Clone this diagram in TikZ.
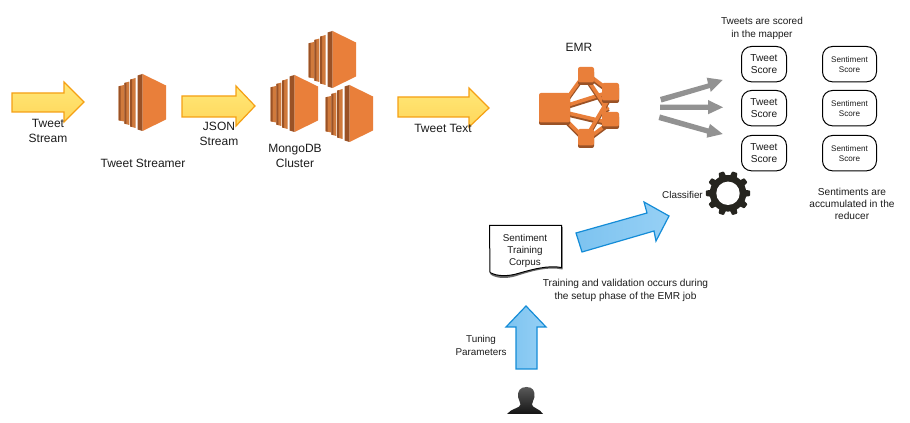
\documentclass[tikz,border=0pt]{standalone}
\usepackage{fontspec}
\setmainfont{Liberation Sans}
\definecolor{awsorange}{HTML}{E97F3A}
\definecolor{awsdark}{HTML}{9A5226}
\definecolor{awsstrip}{HTML}{D07A3C}
\definecolor{gearcol}{HTML}{26251F}
\definecolor{arrowgrey}{HTML}{929292}
\definecolor{txt}{HTML}{1C1C1C}
\tikzset{
  x=0.75pt,y=-0.75pt,
  lbl/.style={font=\fontsize{9}{11.2}\selectfont,text=txt,align=center,inner sep=0pt},
  lblsm/.style={font=\fontsize{7.6}{8.8}\selectfont,text=txt,align=center,inner sep=0pt},
  lbltiny/.style={font=\fontsize{6.1}{7.6}\selectfont,text=txt,align=center,inner sep=0pt},
  lblnote/.style={font=\fontsize{7.5}{9.2}\selectfont,text=txt,align=center,inner sep=0pt},
  yarrow/.style={draw={rgb,255:red,245;green,160;blue,20},line width=0.9pt,line join=miter,top color={rgb,255:red,255;green,232;blue,120},bottom color={rgb,255:red,255;green,214;blue,90}},
  barrow/.style={draw={rgb,255:red,20;green,140;blue,215},line width=0.9pt,line join=miter,left color={rgb,255:red,125;green,195;blue,240},right color={rgb,255:red,150;green,208;blue,245}},
  grey arrow/.style={fill=arrowgrey,draw=none},
  scorebox/.style={draw=black,line width=0.75pt,rounded corners=7.5pt,fill=white,inner sep=0pt},
  ec2/.pic={
    \fill[awsstrip] (0.7,12.3) -- (6,11) -- (6,47.5) -- (0.7,46.3) -- cycle;
    \fill[awsdark] (0.7,12.3) -- (2.7,11.8) -- (2.7,46.8) -- (0.7,46.3) -- cycle;
    \fill[awsstrip] (6.3,9) -- (11.3,7.6) -- (11.3,51) -- (6.3,49.6) -- cycle;
    \fill[awsdark] (6.3,9) -- (8.3,8.5) -- (8.3,50.1) -- (6.3,49.6) -- cycle;
    \fill[awsstrip] (12,5.7) -- (17.5,4) -- (17.5,54) -- (12,52.4) -- cycle;
    \fill[awsdark] (12,5.7) -- (14,5.2) -- (14,53) -- (12,52.4) -- cycle;
    \fill[awsdark] (19.5,1.5) -- (24.5,0) -- (24.5,57) -- (19.5,55.5) -- cycle;
    \fill[awsorange] (24.5,0) -- (48,11.5) -- (48,45.5) -- (24.5,57) -- cycle;
  },
}
\begin{document}
\begin{tikzpicture}
\useasboundingbox (0,0) rectangle (910,423);
\fill[white] (0,0) rectangle (910,423);
% yellow arrows
\path[yarrow] (12,93) -- (64,93) -- (64,82) -- (84,102) -- (64,122) -- (64,112) -- (12,112) -- cycle;
\path[yarrow] (182,96) -- (236,96) -- (236,86) -- (255,106) -- (236,126) -- (236,117) -- (182,117) -- cycle;
\path[yarrow] (398,97) -- (469,97) -- (469,88) -- (489,108) -- (469,127) -- (469,117) -- (398,117) -- cycle;
% labels
\node[lbl] (tweetstream) at (48,131.3) {Tweet\\Stream};
\node[lbl] (jsonstream) at (219,134) {JSON\\Stream};
\node[lbl] (tweettext) at (443,128.5) {Tweet Text};
\node[lbl] (streamer) at (143,163) {Tweet Streamer};
\node[lbl] (mongo) at (295,156) {MongoDB\\Cluster};
\node[lbl] (emrlabel) at (579,47) {EMR};
% EC2 icons
\pic at (118,74) {ec2};
\pic at (308,31) {ec2};
\pic at (270,75) {ec2};
\pic at (325,85) {ec2};
% EMR
\foreach \a/\b/\c/\d in {
  568/97/581/79, 568/122/581/135, 590/76/606/88, 590/137/606/125,
  568/105/606/93, 568/113/606/122, 588/80/608/110, 588/134/608/100, 604/100/604/115}{
  \draw[awsdark,line width=2.9pt] (\a,\b+1.8) -- (\c,\d+1.8);
  \draw[awsorange,line width=2.7pt] (\a,\b) -- (\c,\d);
}
\foreach \xa/\ya/\xb/\yb in {539/93/570/125, 578/67/594/85, 602/83/619/103, 602/112/619/129, 578/129/594/148}{
  \fill[awsdark,rounded corners=1.5pt] (\xa,\ya+3) rectangle (\xb,\yb);
  \fill[awsorange,rounded corners=1.5pt] (\xa,\ya) rectangle (\xb,\yb-2.5);
}
% grey arrows
\fill[grey arrow] (660,97) -- (708,83.5) -- (706.7,77.7) -- (722.7,80) -- (710.7,92) -- (710,88) -- (661.5,102.5) -- cycle;
\fill[grey arrow] (660,104.7) -- (708,104.7) -- (708,100) -- (723,107.3) -- (708,114.3) -- (708,109.8) -- (660,109.8) -- cycle;
\fill[grey arrow] (660,114.5) -- (708.5,128.5) -- (710,124) -- (722.7,134) -- (706.7,137.7) -- (707,133.5) -- (658.5,120) -- cycle;
% score boxes
\foreach \n/\yy in {1/46,2/90,3/135}{
  \node[scorebox,minimum width=33.75pt,minimum height=26.5pt,anchor=north west,lblsm,draw=black] (ts\n) at (741,\yy) {Tweet\\Score};
  \node[scorebox,minimum width=40.5pt,minimum height=26.5pt,anchor=north west,lbltiny,draw=black] (ss\n) at (822,\yy) {Sentiment\\Score};
}
\node[lblnote] (mapper) at (762,28.5) {Tweets are scored\\in the mapper};
\node[lblnote,font=\fontsize{7.6}{9.2}\selectfont] (reducer) at (852,204) {Sentiments are\\accumulated in the\\reducer};
% gear
\foreach \k in {0,...,9}{
  \pgfmathsetmacro{\aa}{\k*36-12}
  \pgfmathsetmacro{\ab}{\k*36-7}
  \pgfmathsetmacro{\ac}{\k*36+7}
  \pgfmathsetmacro{\ad}{\k*36+12}
  \fill[gearcol,rounded corners=0.6pt] ({728+17*cos(\aa)},{193.3+17*sin(\aa)}) -- ({728+22.3*cos(\ab)},{193.3+22.3*sin(\ab)}) -- ({728+22.3*cos(\ac)},{193.3+22.3*sin(\ac)}) -- ({728+17*cos(\ad)},{193.3+17*sin(\ad)}) -- cycle;
}
\fill[gearcol] (728,193.3) circle[radius=18.3];
\fill[white] (728,193.3) circle[radius=11.7];
\node[lblnote,font=\fontsize{7.4}{8.8}\selectfont] (classifier) at (682.5,195) {Classifier};
% blue arrows
\path[barrow] (576,233) -- (647,213) -- (644,202) -- (669,216) -- (656,241) -- (654,231) -- (582,252) -- cycle;
\path[barrow] (526,306) -- (546,327) -- (537,327) -- (537,369) -- (516,369) -- (516,327) -- (506,327) -- cycle;
% document
\fill[black!60] (490,227) -- (562.5,227) -- (562.5,269.5) .. controls (548,266.5) and (532,271) .. (518,275.5) .. controls (508,279) and (497,279) .. (490.5,274.5) -- cycle;
\path[draw=black,fill=white,line width=0.75pt] (489.5,225.5) -- (561.5,225.5) -- (561.5,267.5) .. controls (548,265) and (532,269.5) .. (518,273.5) .. controls (508,276.5) and (497,276.5) .. (490,272.5) -- cycle;
\node[lblnote,font=\fontsize{7.4}{9.1}\selectfont] (corpus) at (525,251) {Sentiment\\Training\\Corpus};
\node[lblnote,font=\fontsize{7.6}{10.1}\selectfont] (training) at (625.5,290.5) {Training and validation occurs during\\the setup phase of the EMR job};
\node[lblnote,font=\fontsize{7.4}{9.2}\selectfont] (tuning) at (481,345.5) {Tuning\\Parameters};
% person
\shade[top color=black!65,bottom color=black!92]
 (526.5,387) .. controls (520,387) and (517.5,391) .. (518,397) .. controls (518.5,400) and (520.5,402) .. (520.5,404.5) .. controls (520.5,408) and (511,408.5) .. (507,414)
 -- (543,414) .. controls (540,408.5) and (532,408) .. (532,404.5) .. controls (532,402) and (534,400) .. (534.5,397) .. controls (535,391) and (533,387) .. (526.5,387) -- cycle;
\end{tikzpicture}
\end{document}
